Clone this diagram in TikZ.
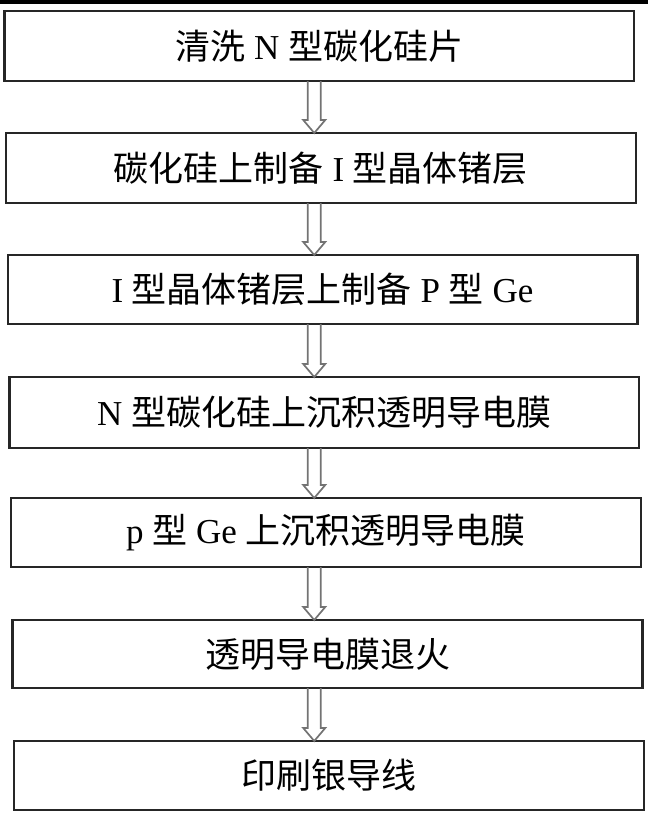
\documentclass[tikz,border=0pt]{standalone}
\usepackage{fontspec}
\setmainfont{Liberation Serif}
\newfontfamily\cjk{Noto Sans CJK SC}
\usetikzlibrary{calc}
\tikzset{
  stepbox/.style={draw=black!85, line width=2.4pt, rectangle, inner sep=0pt, outer sep=0pt,
    font=\fontsize{35}{40}\selectfont},
  flowarrow/.style={draw=black!55, line width=1.7pt, line join=miter,
    to path={let \p1=(\tikztostart), \p2=(\tikztotarget) in
      (\x1-6.5pt,\y1) -- (\x1-6.5pt,\y2+13pt) -- (\x1-11pt,\y2+13pt) -- (\x1,\y2)
      -- (\x1+11pt,\y2+13pt) -- (\x1+6.5pt,\y2+13pt) -- (\x1+6.5pt,\y1)}},
}
\begin{document}
\begin{tikzpicture}[x=1pt, y=-1pt]
  \useasboundingbox (0,0) rectangle (648,815);
  \fill[black] (0,0) rectangle (648,4);
  % Process steps, each box given by left/top/right/bottom
  \foreach \i/\l/\t/\r/\b/\txt in {
      1/4.5/11/634/81/{{\cjk 清洗} N {\cjk 型碳化硅片}},
      2/6.1/133/635.7/203/{{\cjk 碳化硅上制备} I {\cjk 型晶体锗层}},
      3/7.7/255/637.4/324/{I {\cjk 型晶体锗层上制备} P {\cjk 型} Ge},
      4/9.3/377/639.1/448/{N {\cjk 型碳化硅上沉积透明导电膜}},
      5/10.9/498/640.8/567/{p {\cjk 型} Ge {\cjk 上沉积透明导电膜}},
      6/12.5/620/642.5/688/{{\cjk 透明导电膜退火}},
      7/14.1/741/644.2/810/{{\cjk 印刷银导线}}} {
    \node[stepbox, minimum width={(\r-\l)*1pt}, minimum height={(\b-\t)*1pt}]
      (b\i) at ({(\l+\r)/2}, {(\t+\b)/2}) {\txt};
  }
  % hollow arrows between steps, all on one vertical
  \foreach \i/\j in {1/2, 2/3, 3/4, 4/5, 5/6, 6/7} {
    \draw[flowarrow] ([xshift={-5pt-1.65pt*(\i-1)}]b\i.south)
      to ([xshift={-5pt-1.65pt*(\i-1)}]b\i.south |- b\j.north);
  }
\end{tikzpicture}
\end{document}
